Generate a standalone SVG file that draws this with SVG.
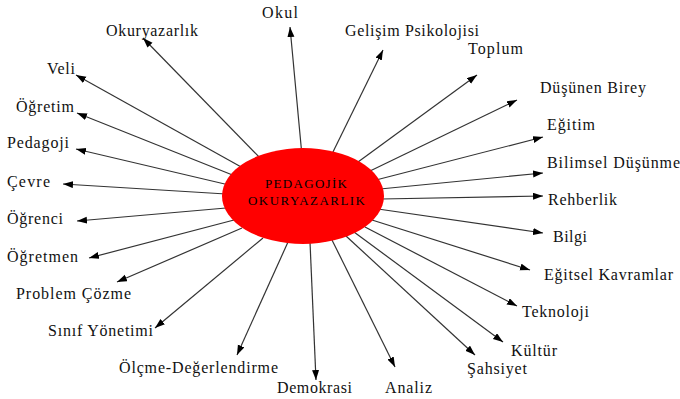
<svg xmlns="http://www.w3.org/2000/svg" width="680" height="399" viewBox="0 0 680 399">
<style>
.bg{fill:#ffffff}
.c line{stroke:#333333;stroke-width:1.2;marker-end:url(#ah)}
.lbl{font-family:'Liberation Serif','Times New Roman',serif;font-size:16px;fill:#111111}
.ctr{font-family:'Liberation Serif','Times New Roman',serif;font-size:13px;fill:#000000}
.core{fill:#ff0000}
</style>
<defs>
<marker id="ah" markerUnits="userSpaceOnUse" markerWidth="11" markerHeight="8" refX="10" refY="3.5" orient="auto">
<path d="M0,0 L10,3.5 L0,7 z" fill="#000000"/>
</marker>
</defs>
<rect class="bg" x="0" y="0" width="680" height="399"/>
<g id="connectors" class="c">
<line x1="302" y1="156" x2="290" y2="27"/>
<line x1="264" y1="162" x2="143" y2="38"/>
<line x1="243" y1="168" x2="76" y2="75"/>
<line x1="235" y1="176" x2="77" y2="113"/>
<line x1="229" y1="185" x2="76" y2="149"/>
<line x1="226" y1="194" x2="63" y2="184"/>
<line x1="226" y1="208" x2="77" y2="221"/>
<line x1="234" y1="220" x2="89" y2="258"/>
<line x1="242" y1="228" x2="117" y2="282"/>
<line x1="263" y1="238" x2="155" y2="328"/>
<line x1="288" y1="242" x2="237" y2="355"/>
<line x1="310" y1="242" x2="316" y2="380"/>
<line x1="332" y1="240" x2="395" y2="367"/>
<line x1="346" y1="236" x2="475" y2="355"/>
<line x1="354" y1="232" x2="503" y2="342"/>
<line x1="365" y1="227" x2="517" y2="306"/>
<line x1="372" y1="220" x2="530" y2="270"/>
<line x1="378" y1="209" x2="543" y2="233"/>
<line x1="381" y1="199" x2="543" y2="196"/>
<line x1="380" y1="189" x2="543" y2="173"/>
<line x1="376" y1="180" x2="543" y2="137"/>
<line x1="370" y1="171" x2="517" y2="100"/>
<line x1="358" y1="162" x2="477" y2="75"/>
<line x1="331" y1="156" x2="383" y2="50"/>
</g>
<g id="center">
<ellipse class="core" cx="303" cy="196" rx="81" ry="48"/>
<text class="ctr" x="265" y="188" textLength="82" lengthAdjust="spacing">PEDAGOJİK</text>
<text class="ctr" x="248" y="205" textLength="117" lengthAdjust="spacing">OKURYAZARLIK</text>
</g>
<g id="n-okul"><text class="lbl" x="262" y="18" textLength="36" lengthAdjust="spacing">Okul</text></g>
<g id="n-okuryazarlik"><text class="lbl" x="106" y="36" textLength="92" lengthAdjust="spacing">Okuryazarlık</text></g>
<g id="n-veli"><text class="lbl" x="47" y="74" textLength="28" lengthAdjust="spacing">Veli</text></g>
<g id="n-ogretim"><text class="lbl" x="16" y="112" textLength="58" lengthAdjust="spacing">Öğretim</text></g>
<g id="n-pedagoji"><text class="lbl" x="7" y="148" textLength="62" lengthAdjust="spacing">Pedagoji</text></g>
<g id="n-cevre"><text class="lbl" x="7" y="187" textLength="43" lengthAdjust="spacing">Çevre</text></g>
<g id="n-ogrenci"><text class="lbl" x="7" y="224" textLength="56" lengthAdjust="spacing">Öğrenci</text></g>
<g id="n-ogretmen"><text class="lbl" x="7" y="262" textLength="71" lengthAdjust="spacing">Öğretmen</text></g>
<g id="n-problem"><text class="lbl" x="16" y="299" textLength="115" lengthAdjust="spacing">Problem Çözme</text></g>
<g id="n-sinif"><text class="lbl" x="48" y="336" textLength="105" lengthAdjust="spacing">Sınıf Yönetimi</text></g>
<g id="n-olcme"><text class="lbl" x="119" y="373" textLength="159" lengthAdjust="spacing">Ölçme-Değerlendirme</text></g>
<g id="n-demokrasi"><text class="lbl" x="277" y="393" textLength="75" lengthAdjust="spacing">Demokrasi</text></g>
<g id="n-analiz"><text class="lbl" x="385" y="393" textLength="47" lengthAdjust="spacing">Analiz</text></g>
<g id="n-sahsiyet"><text class="lbl" x="467" y="374" textLength="60" lengthAdjust="spacing">Şahsiyet</text></g>
<g id="n-kultur"><text class="lbl" x="511" y="356" textLength="46" lengthAdjust="spacing">Kültür</text></g>
<g id="n-teknoloji"><text class="lbl" x="522" y="317" textLength="67" lengthAdjust="spacing">Teknoloji</text></g>
<g id="n-egitsel"><text class="lbl" x="544" y="280" textLength="129" lengthAdjust="spacing">Eğitsel Kavramlar</text></g>
<g id="n-bilgi"><text class="lbl" x="553" y="242" textLength="34" lengthAdjust="spacing">Bilgi</text></g>
<g id="n-rehberlik"><text class="lbl" x="548" y="205" textLength="69" lengthAdjust="spacing">Rehberlik</text></g>
<g id="n-bilimsel"><text class="lbl" x="547" y="168" textLength="133" lengthAdjust="spacing">Bilimsel Düşünme</text></g>
<g id="n-egitim"><text class="lbl" x="547" y="130" textLength="48" lengthAdjust="spacing">Eğitim</text></g>
<g id="n-dusunen"><text class="lbl" x="540" y="93" textLength="106" lengthAdjust="spacing">Düşünen Birey</text></g>
<g id="n-toplum"><text class="lbl" x="468" y="54" textLength="55" lengthAdjust="spacing">Toplum</text></g>
<g id="n-gelisim"><text class="lbl" x="345" y="36" textLength="134" lengthAdjust="spacing">Gelişim Psikolojisi</text></g>
</svg>
